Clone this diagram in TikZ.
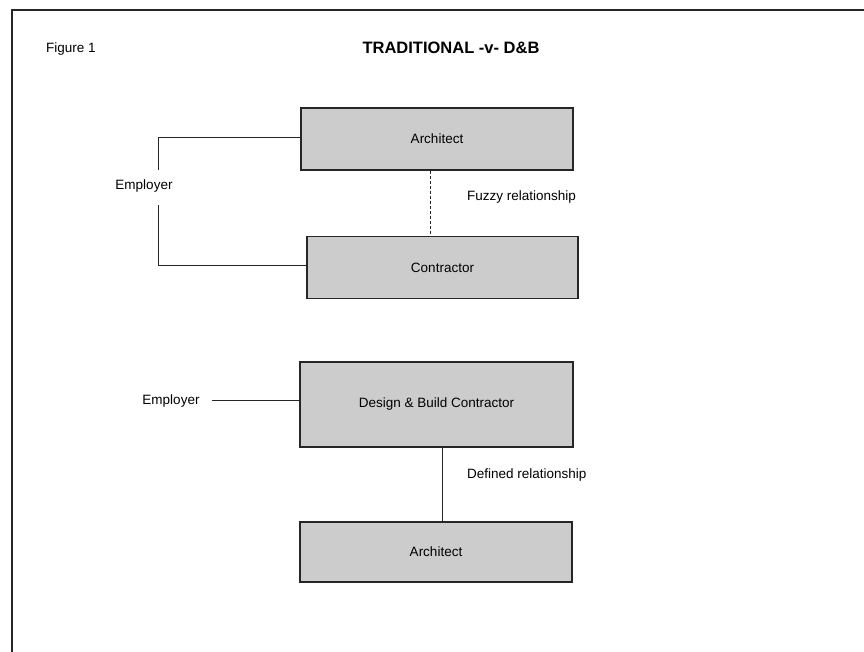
\documentclass[tikz,border=0pt]{standalone}
\usepackage{fontspec}
\setmainfont{Liberation Sans}
\begin{document}
\begin{tikzpicture}[x=1pt,y=-1pt,
  box/.style={draw=black!85,line width=1.2pt,fill=black!20,inner sep=0pt,font=\fontsize{13.5}{16}\selectfont},
  lbl/.style={inner sep=0pt,font=\fontsize{13.5}{16}\selectfont},
  conn/.style={draw=black!85,line width=0.9pt},
  fuzzy/.style={conn,dash pattern=on 3pt off 2pt}]
\useasboundingbox (0,0) rectangle (864,652);
\draw[line width=1.3pt,black!85] (12,652) -- (12,10) -- (864,10);
\node[lbl,anchor=west] (fig) at (46,49) {Figure 1};
\node[lbl,font=\fontsize{16.5}{19}\selectfont\bfseries] (title) at (451,48) {TRADITIONAL -v- D\&B};
% traditional
\node[box,minimum width=272,minimum height=62] (arch1) at (437,139) {Architect};
\node[box,minimum width=271,minimum height=62] (contr) at (442.5,267.5) {Contractor};
\node[lbl] (emp1) at (144,186) {Employer};
\node[lbl,anchor=west] (fuzzy) at (467,197) {Fuzzy relationship};
\coordinate (t1) at (158,137);
\coordinate (b1) at (158,170);
\coordinate (b2) at (158,205);
\coordinate (t2) at (158,265);
\coordinate (dx) at (430,0);
\draw[conn] (arch1.west |- t1) -- (t1) -- (b1);
\draw[conn] (b2) -- (t2) -- (t2 -| contr.west);
\draw[fuzzy] (arch1.south -| dx) -- (contr.north -| dx);
% design and build
\node[box,minimum width=273,minimum height=85] (db) at (436.5,404.5) {Design \& Build Contractor};
\node[box,minimum width=272,minimum height=60] (arch2) at (436,552) {Architect};
\node[lbl] (emp2) at (171,401) {Employer};
\node[lbl,anchor=west] (defined) at (467,475) {Defined relationship};
\coordinate (e2) at (212,400);
\coordinate (sx) at (442,0);
\draw[conn] (e2) -- (e2 -| db.west);
\draw[conn] (db.south -| sx) -- (arch2.north -| sx);
\end{tikzpicture}
\end{document}
